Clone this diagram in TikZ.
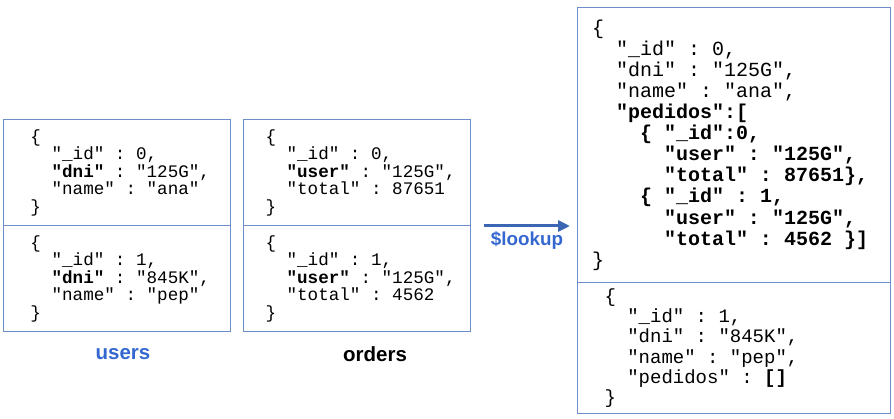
\documentclass[tikz,border=0pt]{standalone}
\usepackage{fontspec}
\setmainfont{Liberation Sans}
\setmonofont{Liberation Mono}
\usetikzlibrary{positioning, arrows.meta}

\definecolor{boxblue}{RGB}{108,143,201}
\definecolor{arrowblue}{RGB}{58,102,180}
\definecolor{labelblue}{RGB}{52,104,208}

% leading blanks of a record line, counted in characters
\newcommand\lead[1]{\hspace*{#1em}}
% one blank as wide as one character
\newcommand\monospace{\spaceskip=0.6em\relax\xspaceskip=0.6em\relax}

\begin{document}
\begin{tikzpicture}[x = 1pt, y = -1pt,
    record/.style = {draw = boxblue, line width = 1pt, anchor = north west, align = left, inner ysep = 0pt, inner xsep = 8pt,
        execute at begin node = {\monospace\leftskip=#1\relax}},
    small/.style = {font = \ttfamily\fontsize{17.6}{17.5}\selectfont, minimum width = 227pt, minimum height = 106pt, text width = 211pt},
    big/.style = {font = \ttfamily\fontsize{20}{21.1}\selectfont},
    mid/.style = {font = \ttfamily\fontsize{19}{20.2}\selectfont},
    title/.style = {font = \bfseries\fontsize{20.5}{22}\selectfont, inner sep = 0pt}]
    \useasboundingbox (0,0) rectangle (894,419);
    % users
    \node[record = 19pt, small] (u1) at (3,119) {%
        \{\\
        \lead{1.2}"\_id" : 0,\\
        \lead{1.2}\textbf{"dni"} : "125G",\\
        \lead{1.2}"name" : "ana"\\
        \}};
    \node[record = 19pt, small] (u2) at (3,225) {%
        \{\\
        \lead{1.2}"\_id" : 1,\\
        \lead{1.2}\textbf{"dni"} : "845K",\\
        \lead{1.2}"name" : "pep"\\
        \}};
    % orders
    \node[record = 14pt, small] (o1) at (243,119) {%
        \{\\
        \lead{1.2}"\_id" : 0,\\
        \lead{1.2}\textbf{"user"} : "125G",\\
        \lead{1.2}"total" : 87651\\
        \}};
    \node[record = 14pt, small] (o2) at (243,225) {%
        \{\\
        \lead{1.2}"\_id" : 1,\\
        \lead{1.2}\textbf{"user"} : "125G",\\
        \lead{1.2}"total" : 4562\\
        \}};
    % result of the lookup
    \node[record = 6.5pt, big, minimum width = 313pt, minimum height = 275pt, text width = 297pt] (r1) at (577,7) {%
        \{\\
        \lead{1.2}"\_id" : 0,\\
        \lead{1.2}"dni" : "125G",\\
        \lead{1.2}"name" : "ana",\\
        \lead{1.2}\textbf{"pedidos":[}\\
        \lead{2.4}\textbf{\{ "\_id":0,}\\
        \lead{3.6}\textbf{"user" : "125G",}\\
        \lead{3.6}\textbf{"total" : 87651\},}\\
        \lead{2.4}\textbf{\{ "\_id" : 1,}\\
        \lead{3.6}\textbf{"user" : "125G",}\\
        \lead{3.6}\textbf{"total" : 4562 \}]}\\
        \}};
    \node[record = 19pt, mid, minimum width = 313pt, minimum height = 131pt, text width = 297pt] (r2) at (577,282) {%
        \{\\
        \lead{1.2}"\_id" : 1,\\
        \lead{1.2}"dni" : "845K",\\
        \lead{1.2}"name" : "pep",\\
        \lead{1.2}"pedidos" : \textbf{[]}\\
        \}};
    % labels
    \node[title, text = labelblue] (users) at ([xshift = 6pt, yshift = -22pt]u2.south) {users};
    \node[title] (orders) at ([xshift = 18pt, yshift = -22pt]o2.south) {orders};
    % arrow
    \draw[arrowblue, line width = 3pt, -{Triangle[length = 12pt, width = 11pt]}]
        ([xshift = 13pt]o1.south east) -- ([xshift = -7pt]o1.south east -| r1.west)
        node[midway, below = 4pt, title, font = \bfseries\fontsize{18.8}{20}\selectfont, text = labelblue] (lookup) {\$lookup};
\end{tikzpicture}
\end{document}
